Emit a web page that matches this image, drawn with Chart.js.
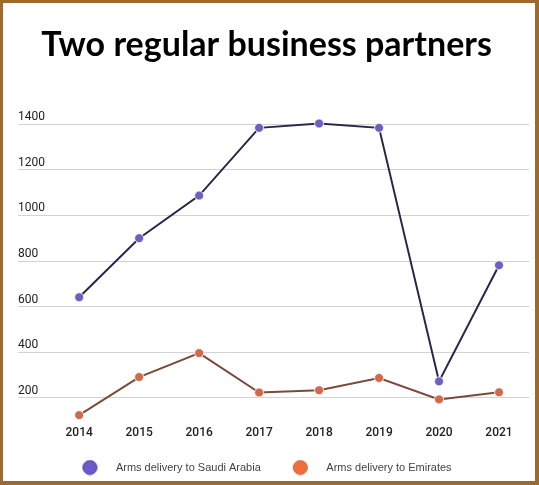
<!DOCTYPE html>
<html>
<head>
<meta charset="utf-8">
<script src="https://cdn.jsdelivr.net/npm/chart.js@4"></script>
<style>
  html, body { margin: 0; padding: 0; background: #fff; }
  #wrap { position: relative; width: 539px; height: 485px; }
  #frame {
    position: absolute; left: 0; top: 0; right: 0; bottom: 0;
    border-style: solid; border-color: #9c6a2c;
    border-width: 3px 4px 4px 3px;
    pointer-events: none;
  }
</style>
</head>
<body>
<div id="wrap">
  <canvas id="partners" width="539" height="485"></canvas>
  <div id="frame"></div>
</div>
<script>
// values
const years = [2014, 2015, 2016, 2017, 2018, 2019, 2020, 2021];
const saudiArabia = [641, 900, 1087, 1384, 1403, 1384, 272, 781];
const emirates = [124, 291, 396, 223, 233, 287, 193, 224];
const yTicks = [200, 400, 600, 800, 1000, 1200, 1400];

// legend marker: circle sitting near the right of a wide transparent box,
// so there is room before it (spacing between legend items)
function legendDot(fill, stroke) {
  const c = document.createElement('canvas');
  c.width = 43;
  c.height = 16;
  const g = c.getContext('2d');
  g.beginPath();
  g.arc(22.5, 8, 7, 0, Math.PI * 2);
  g.fillStyle = fill;
  g.fill();
  g.lineWidth = 1;
  g.strokeStyle = stroke;
  g.stroke();
  return c;
}

const dots = [
  legendDot('#6a5acd', '#453a90'),
  legendDot('#ee6e3c', '#d35e30')
];

// title and legend sit a little left of the plot centre in the original
const nudge = {
  id: 'nudge',
  afterLayout(chart) {
    chart.legend.left -= 14;
    chart.legend.right -= 14;
    chart.titleBlock.left -= 7;
    chart.titleBlock.right -= 7;
  }
};

const ctx = document.getElementById('partners').getContext('2d');

const chart = new Chart(ctx, {
  type: 'line',
  data: {
    datasets: [{
      label: 'Arms delivery to Saudi Arabia',
      data: years.map((y, i) => ({ x: y, y: saudiArabia[i] })),
      borderColor: '#29264a',
      borderWidth: 2,
      backgroundColor: '#6a5acd',
      pointRadius: 4.5,
      pointBackgroundColor: '#6c60c0',
      pointBorderColor: 'rgba(255,255,255,0.8)',
      pointBorderWidth: 1,
      tension: 0
    }, {
      label: 'Arms delivery to Emirates',
      data: years.map((y, i) => ({ x: y, y: emirates[i] })),
      borderColor: '#7a4a3a',
      borderWidth: 2,
      backgroundColor: '#ee6e3c',
      pointRadius: 4.5,
      pointBackgroundColor: '#d2694a',
      pointBorderColor: 'rgba(255,255,255,0.8)',
      pointBorderWidth: 1,
      tension: 0
    }]
  },
  plugins: [nudge],
  options: {
    responsive: false,
    animation: false,
    layout: {
      padding: { left: 18, right: 10, top: 0, bottom: 2 }
    },
    scales: {
      x: {
        type: 'linear',
        min: 2012.98,
        max: 2021.5,
        afterBuildTicks: axis => {
          axis.ticks = years.map(v => ({ value: v }));
        },
        grid: { display: false, drawTicks: false },
        border: { display: false },
        ticks: {
          padding: 5,
          color: '#222',
          font: { family: 'Roboto', size: 12, weight: '500' },
          callback: v => String(v)
        }
      },
      y: {
        min: 100,
        max: 1450,
        afterBuildTicks: axis => {
          axis.ticks = yTicks.map(v => ({ value: v }));
        },
        grid: { color: '#d3d3d3', lineWidth: 1, drawTicks: false },
        border: { display: false },
        ticks: {
          mirror: true,
          padding: 0,
          labelOffset: -7,
          color: '#222',
          font: { family: 'Roboto', size: 12 },
          callback: v => String(v)
        }
      }
    },
    plugins: {
      title: {
        display: true,
        text: 'Two regular business partners',
        color: '#000',
        font: { family: 'Lato', size: 34, weight: 'bold' },
        padding: { top: 25, bottom: 47 }
      },
      legend: {
        position: 'bottom',
        labels: {
          usePointStyle: true,
          pointStyleWidth: 43,
          boxHeight: 16,
          padding: 17,
          color: '#444',
          font: { family: 'Liberation Sans', size: 11 },
          generateLabels: c => {
            const items = Chart.defaults.plugins.legend.labels.generateLabels(c);
            items.forEach((it, i) => {
              it.pointStyle = dots[i];
            });
            return items;
          }
        }
      },
      tooltip: { enabled: false }
    }
  }
});
</script>
</body>
</html>
